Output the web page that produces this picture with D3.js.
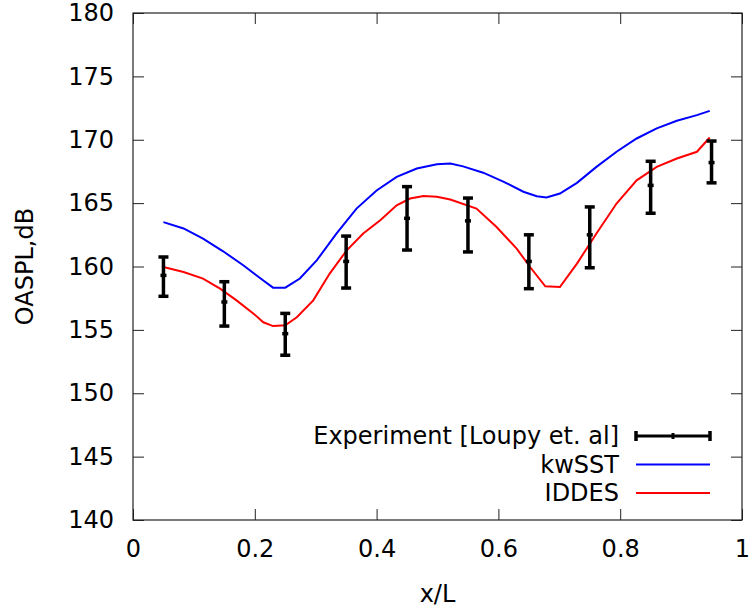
<!DOCTYPE html>
<meta charset="utf-8">
<body style="margin:0;background:#fff">
<div id="graph"></div>
<script src="https://cdn.jsdelivr.net/npm/d3@7"></script>
<script>
  // experiment (Loupy et al) with error bars
  var expX = [0.05, 0.15, 0.25, 0.35, 0.45, 0.55, 0.65, 0.75, 0.85, 0.95];
  var expY = [159.3, 157.2, 154.7, 160.4, 163.8, 163.6, 160.4, 162.5, 166.4, 168.2];
  var expLow = [157.65, 155.3, 153.0, 158.3, 161.3, 161.15, 158.25, 159.9, 164.2, 166.6];
  var expHigh = [160.75, 158.8, 156.3, 162.4, 166.3, 165.4, 162.5, 164.7, 168.3, 169.9];

  // kwSST
  var sstX = [0.05, 0.083, 0.115, 0.148, 0.181, 0.214, 0.23, 0.25, 0.274, 0.302, 0.334, 0.367, 0.4, 0.433, 0.466, 0.499, 0.521, 0.542, 0.575, 0.608, 0.641, 0.663, 0.679, 0.701, 0.729, 0.761, 0.794, 0.827, 0.86, 0.893, 0.926, 0.947];
  var sstY = [163.5, 163.0, 162.2, 161.2, 160.1, 158.9, 158.33, 158.33, 159.05, 160.5, 162.6, 164.57, 166.0, 167.07, 167.73, 168.07, 168.13, 167.9, 167.4, 166.7, 165.9, 165.55, 165.44, 165.76, 166.6, 167.86, 169.05, 170.1, 170.9, 171.5, 171.94, 172.28];

  // IDDES
  var iddX = [0.05, 0.083, 0.115, 0.143, 0.17, 0.198, 0.214, 0.23, 0.25, 0.269, 0.296, 0.323, 0.351, 0.378, 0.406, 0.433, 0.455, 0.477, 0.499, 0.521, 0.564, 0.597, 0.63, 0.652, 0.677, 0.701, 0.729, 0.761, 0.794, 0.827, 0.86, 0.893, 0.926, 0.947];
  var iddY = [159.96, 159.57, 159.05, 158.25, 157.33, 156.28, 155.6, 155.3, 155.36, 156.0, 157.33, 159.44, 161.28, 162.6, 163.65, 164.83, 165.36, 165.57, 165.5, 165.28, 164.57, 163.12, 161.41, 159.96, 158.44, 158.38, 160.23, 162.6, 164.97, 166.8, 167.86, 168.52, 169.05, 170.18];

  var xTicks = [0, 0.2, 0.4, 0.6, 0.8, 1];
  var yTicks = [140, 145, 150, 155, 160, 165, 170, 175, 180];

  var margin = {top: 13, right: 10, bottom: 92, left: 133},
    width = 742 - margin.left,
    height = 520 - margin.top;

  var fontFamily = "'DejaVu Sans', sans-serif";
  var fontSize = "24px";

  var svg = d3.select("#graph")
    .append("svg")
    .attr("width", 752)
    .attr("height", 611)
    .style("font-family", fontFamily)
    .append("g")
    .attr("transform", "translate(" + margin.left + "," + margin.top + ")");

  var x = d3.scaleLinear().domain([0, 1]).range([0, width]);
  var y = d3.scaleLinear().domain([140, 180]).range([height, 0]);

  var tickLen = 11;
  var frameColor = "#222";

  // inward ticks on all four sides
  function styleAxis(g) {
    g.attr("font-family", null).attr("font-size", null);
    g.select(".domain").remove();
    g.selectAll(".tick line").attr("stroke", frameColor);
    g.selectAll(".tick text").attr("fill", "#000").style("font-size", fontSize);
  }

  svg.append("g")
    .attr("transform", "translate(0," + height + ")")
    .call(d3.axisBottom(x).tickValues(xTicks).tickSize(-tickLen).tickPadding(20)
      .tickFormat(function(d) { return d3.format("")(d); }))
    .call(styleAxis);

  svg.append("g")
    .call(d3.axisTop(x).tickValues(xTicks).tickSize(-tickLen).tickFormat(""))
    .call(styleAxis);

  svg.append("g")
    .call(d3.axisLeft(y).tickValues(yTicks).tickSize(-tickLen).tickPadding(19))
    .call(styleAxis);

  svg.append("g")
    .attr("transform", "translate(" + width + ",0)")
    .call(d3.axisRight(y).tickValues(yTicks).tickSize(-tickLen).tickFormat(""))
    .call(styleAxis);

  svg.append("rect")
    .attr("width", width)
    .attr("height", height)
    .attr("fill", "none")
    .attr("stroke", frameColor)
    .attr("stroke-width", 1.2);

  // axis titles
  svg.append("text")
    .attr("x", width / 2)
    .attr("y", height + 82)
    .attr("text-anchor", "middle")
    .style("font-size", fontSize)
    .text("x/L");

  svg.append("text")
    .attr("transform", "translate(-100," + (height / 2) + ") rotate(-90)")
    .attr("text-anchor", "middle")
    .style("font-size", fontSize)
    .text("OASPL,dB");

  // model curves
  function lineOf(xs, ys) {
    return d3.line()
      .x(function(d, i) { return x(xs[i]); })
      .y(function(d, i) { return y(ys[i]); })(ys);
  }

  svg.append("path")
    .attr("d", lineOf(sstX, sstY))
    .attr("fill", "none")
    .attr("stroke", "#0000ff")
    .attr("stroke-width", 2);

  svg.append("path")
    .attr("d", lineOf(iddX, iddY))
    .attr("fill", "none")
    .attr("stroke", "#ff0000")
    .attr("stroke-width", 2);

  // error bars
  var capW = 5;
  var bars = svg.selectAll(".bar")
    .data(expX)
    .enter().append("g")
    .attr("class", "bar")
    .attr("stroke", "#000")
    .attr("stroke-width", 3.5);

  bars.append("line")
    .attr("x1", function(d) { return x(d); })
    .attr("x2", function(d) { return x(d); })
    .attr("y1", function(d, i) { return y(expLow[i]); })
    .attr("y2", function(d, i) { return y(expHigh[i]); });

  bars.append("line")
    .attr("x1", function(d) { return x(d) - capW; })
    .attr("x2", function(d) { return x(d) + capW; })
    .attr("y1", function(d, i) { return y(expLow[i]); })
    .attr("y2", function(d, i) { return y(expLow[i]); });

  bars.append("line")
    .attr("x1", function(d) { return x(d) - capW; })
    .attr("x2", function(d) { return x(d) + capW; })
    .attr("y1", function(d, i) { return y(expHigh[i]); })
    .attr("y2", function(d, i) { return y(expHigh[i]); });

  bars.append("line")
    .attr("x1", function(d) { return x(d) - 3; })
    .attr("x2", function(d) { return x(d) + 3; })
    .attr("y1", function(d, i) { return y(expY[i]); })
    .attr("y2", function(d, i) { return y(expY[i]); });

  // legend
  var legend = [
    {label: "Experiment [Loupy et. al]", color: "#000", err: true},
    {label: "kwSST", color: "#0000ff"},
    {label: "IDDES", color: "#ff0000"}
  ];
  var lg = svg.selectAll(".legend")
    .data(legend)
    .enter().append("g")
    .attr("class", "legend")
    .attr("transform", function(d, i) { return "translate(0," + (423 + i * 28.5) + ")"; });

  lg.append("text")
    .attr("x", 486)
    .attr("dy", "0.35em")
    .attr("text-anchor", "end")
    .style("font-size", fontSize)
    .text(function(d) { return d.label; });

  lg.append("line")
    .attr("x1", 503)
    .attr("x2", 577)
    .attr("stroke", function(d) { return d.color; })
    .attr("stroke-width", function(d) { return d.err ? 3 : 2; });

  var errLg = lg.filter(function(d) { return d.err; });
  [503, 577].forEach(function(px) {
    errLg.append("line")
      .attr("x1", px).attr("x2", px)
      .attr("y1", -5).attr("y2", 5)
      .attr("stroke", "#000").attr("stroke-width", 3.5);
  });
  errLg.append("line")
    .attr("x1", 540).attr("x2", 540)
    .attr("y1", -3).attr("y2", 3)
    .attr("stroke", "#000").attr("stroke-width", 3);
</script>
</body>
